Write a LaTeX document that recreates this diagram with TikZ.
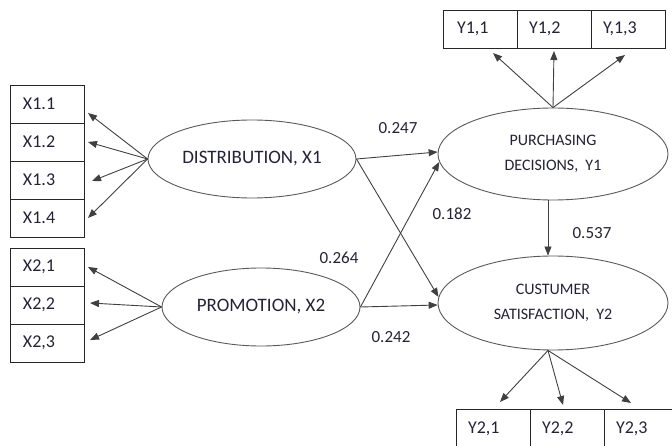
\documentclass[tikz,border=0pt]{standalone}
\usepackage{fontspec}
\setmainfont{Carlito}
\usepackage{tikz}
\usetikzlibrary{arrows.meta, positioning, shapes}
\definecolor{txt}{RGB}{35,35,55}

\tikzset{
    ind/.style={draw=black!85, line width=0.9pt, rectangle, minimum height=38pt,
        text width=48pt, inner xsep=13pt, inner ysep=0pt, align=left,
        outer sep=0pt, text=txt, font=\fontsize{18}{20}\selectfont},
    lat/.style={draw=black!65, line width=0.9pt, ellipse, inner sep=0pt,
        align=center, text=txt},
    arr/.style={draw=black!75, line width=0.9pt, -{Triangle[length=9pt,width=7pt]}},
    coef/.style={text=txt, font=\fontsize{17}{19}\selectfont},
}

\begin{document}
\begin{tikzpicture}[x=1pt, y=-1pt]
    \useasboundingbox (0,0) rectangle (672,446);

    % Latent variables
    \node[lat, minimum width=208pt, minimum height=78pt,
        font=\fontsize{19}{21}\selectfont] (dist) at (252,159) {DISTRIBUTION, X1};
    \node[lat, minimum width=198pt, minimum height=78pt,
        font=\fontsize{19}{21}\selectfont] (promo) at (261,307) {PROMOTION, X2};
    \node[lat, minimum width=230pt, minimum height=92pt,
        font=\fontsize{16}{25}\selectfont] (purch) at (553,154) {PURCHASING\\DECISIONS,\ \ Y1};
    \node[lat, minimum width=230pt, minimum height=94pt,
        font=\fontsize{16}{25}\selectfont] (satis) at (553,303) {CUSTUMER\\SATISFACTION,\ \ Y2};

    % Indicators of X1 and X2
    \node[ind] (x11) at (47,104) {X1.1};
    \node[ind, below=0pt of x11] (x12) {X1.2};
    \node[ind, below=0pt of x12] (x13) {X1.3};
    \node[ind, below=0pt of x13] (x14) {X1.4};

    \node[ind] (x21) at (47,267) {X2,1};
    \node[ind, below=0pt of x21] (x22) {X2,2};
    \node[ind, below=0pt of x22] (x23) {X2,3};

    % Indicators of Y1 and Y2
    \node[ind, inner xsep=12pt, text width=50pt] (y11) at (480,29) {\hspace*{2pt}Y1,1};
    \node[ind, inner xsep=12pt, text width=50pt, right=0pt of y11] (y12) {Y1,2};
    \node[ind, inner xsep=12pt, text width=50pt, right=0pt of y12] (y13) {Y,1,3};

    \node[ind, minimum height=40pt, inner xsep=12pt, text width=50pt] (y21) at (493,429) {Y2,1};
    \node[ind, minimum height=40pt, inner xsep=12pt, text width=50pt, right=0pt of y21] (y22) {Y2,2};
    \node[ind, minimum height=40pt, inner xsep=12pt, text width=50pt, right=0pt of y22] (y23) {Y2,3};

    % Loadings
    \draw[arr] (dist.west) -- ([xshift=4pt,yshift=-9pt]x11.east);
    \draw[arr] (dist.west) -- ([xshift=4pt]x12.east);
    \draw[arr] (dist.west) -- ([xshift=8pt,yshift=-1pt]x13.east);
    \draw[arr] (dist.west) -- ([xshift=4pt]x14.east);

    \draw[arr] (promo.west) -- ([xshift=4pt]x21.east);
    \draw[arr] (promo.west) -- ([xshift=6pt,yshift=2pt]x22.east);
    \draw[arr] (promo.west) -- ([xshift=6pt,yshift=3pt]x23.east);

    \draw[arr] (purch.north) -- ([xshift=13pt,yshift=-5pt]y11.south);
    \draw[arr] (purch.north) -- ([yshift=-3pt]y12.south);
    \draw[arr] (purch.north) -- ([xshift=-3pt,yshift=-7pt]y13.south);

    \draw[arr] ([xshift=-5pt]satis.south) -- ([xshift=7pt,yshift=7pt]y21.north);
    \draw[arr] ([xshift=-5pt]satis.south) -- ([xshift=-4pt,yshift=4pt]y22.north);
    \draw[arr] ([xshift=-5pt]satis.south) -- ([xshift=-10pt,yshift=6pt]y23.north);

    % Structural paths
    \draw[arr] (dist.east) -- (purch.179);
    \draw[arr] (dist.east) -- (satis.177);
    \draw[arr] (promo.east) -- (purch.184);
    \draw[arr] (promo.east) -- (satis.181);
    \draw[arr] ([xshift=-5pt]purch.south) -- ([xshift=-5pt]satis.north);

    % Path coefficients
    \node[coef] (c247) at (398,128) {0.247};
    \node[coef] (c182) at (452,214) {0.182};
    \node[coef] (c264) at (339,258) {0.264};
    \node[coef] (c242) at (391,337) {0.242};
    \node[coef] (c537) at (592,233) {0.537};

\end{tikzpicture}
\end{document}
